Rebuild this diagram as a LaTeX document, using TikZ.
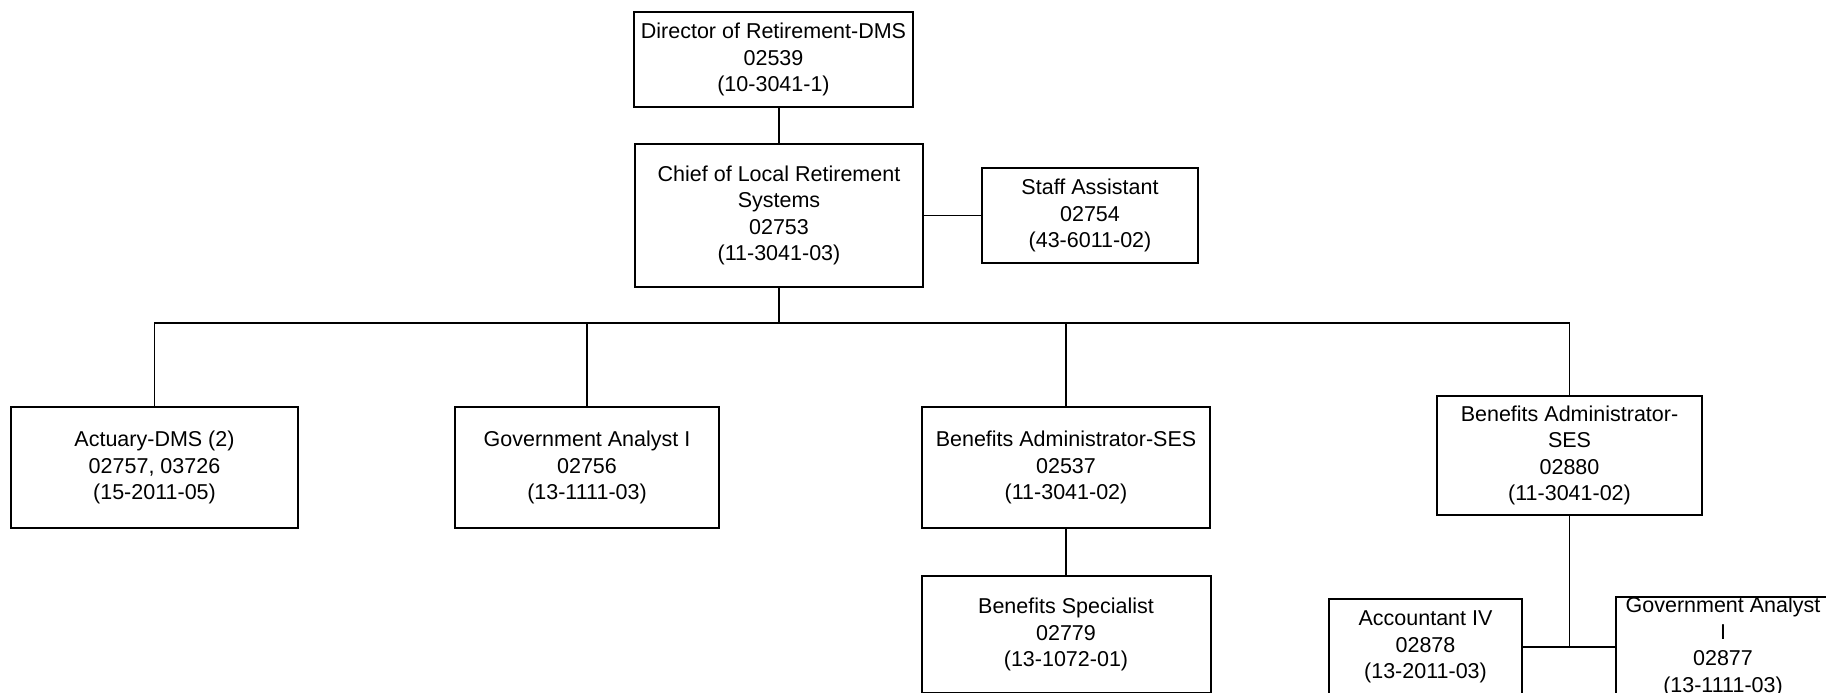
\documentclass[tikz,border=0pt]{standalone}
\usepackage{fontspec}
\setmainfont{Liberation Sans}
\begin{document}
\begin{tikzpicture}[x=0.5pt,y=-0.5pt,
  orgbox/.style 2 args={draw=black, line width=1pt, fill=white, inner sep=0pt,
    align=center, minimum width={#1*0.5pt}, minimum height={#2*0.5pt},
    font=\fontsize{10.75pt}{13.2pt}\selectfont},
  link/.style={draw=black, line width=0.8pt}]
\useasboundingbox (0,0) rectangle (1826,692);
\clip (0,0) rectangle (1826,692);

% positions
\node[orgbox={279}{95}]  (dir)   at (773.5,59.5)  {Director of Retirement-DMS\\02539\\(10-3041-1)};
\node[orgbox={288}{143}] (chief) at (779,215.5)   {Chief of Local Retirement\\Systems\\02753\\(11-3041-03)};
\node[orgbox={216}{95}]  (staff) at (1090,215.5)  {Staff Assistant\\02754\\(43-6011-02)};
\node[orgbox={287}{121}] (act)   at (154.5,467.5) {Actuary-DMS (2)\\02757, 03726\\(15-2011-05)};
\node[orgbox={264}{121}] (gov)   at (587,467.5)   {Government Analyst I\\02756\\(13-1111-03)};
\node[orgbox={288}{121}] (bas)   at (1066,467.5)  {Benefits Administrator-SES\\02537\\(11-3041-02)};
\node[orgbox={265}{119}] (batwo) at (1569.5,455.5) {Benefits Administrator-\\SES\\02880\\(11-3041-02)};
\node[orgbox={289}{117}] (spec)  at (1066,634.5)  {Benefits Specialist\\02779\\(13-1072-01)};
\node[orgbox={193}{96}]  (acct)  at (1425.5,647)  {Accountant IV\\02878\\(13-2011-03)};
\node[orgbox={214}{96}]  (govtwo) at (1723,647)   {Government Analyst\\I\\02877\\(13-1111-03)};

\coordinate (bus) at (778,323);
\coordinate (junc) at (1569.5,647);

% connectors
\draw[link] (chief.north) -- (chief.north |- dir.south);
\draw[link] (chief.east) -- (staff.west);
\draw[link, line width=1.4pt] (chief.south) -- (chief.south |- bus);
\draw[link] (act.north) -- (act.north |- bus) -- (batwo.north |- bus) -- (batwo.north);
\draw[link] (gov.north) -- (gov.north |- bus);
\draw[link] (bas.north) -- (bas.north |- bus);
\draw[link] (bas.south) -- (spec.north);
\draw[link] (batwo.south) -- (junc);
\draw[link] (acct.east) -- (govtwo.west);
\end{tikzpicture}
\end{document}
